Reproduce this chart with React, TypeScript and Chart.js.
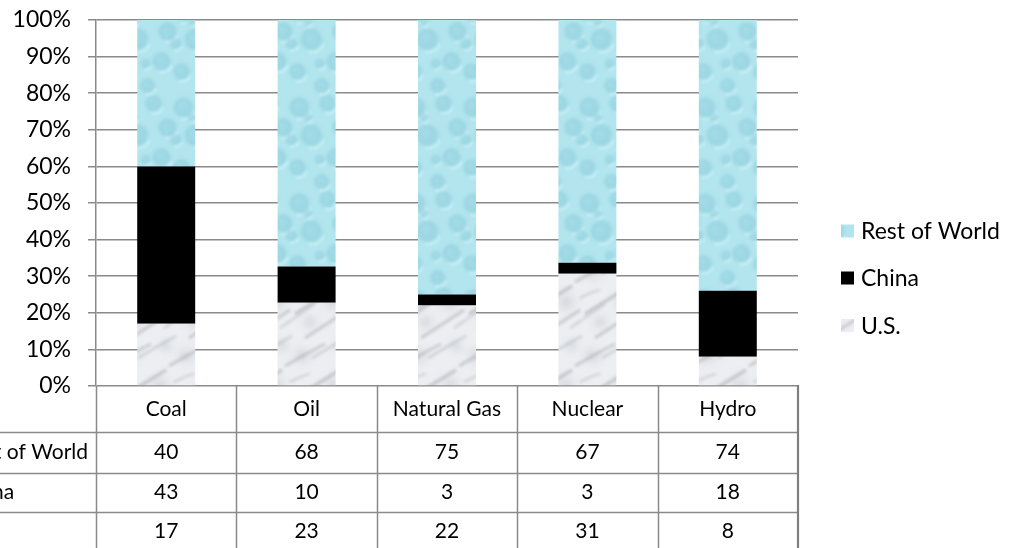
import React, { useEffect, useRef } from 'react';
import { Chart, registerables } from 'chart.js';

Chart.register(...registerables);

// ---------- data ----------
const categories = ['Coal', 'Oil', 'Natural Gas', 'Nuclear', 'Hydro'];
const usValues = [17, 23, 22, 31, 8];
const chinaValues = [43, 10, 3, 3, 18];
const restValues = [40, 68, 75, 67, 74];
const seriesLabels = ['U.S.', 'China', 'Rest of World']; // stacking order, bottom to top
const tableOrder = ['Rest of World', 'China', 'U.S.']; // table / legend order
const yTickValues = [0, 10, 20, 30, 40, 50, 60, 70, 80, 90, 100];

const FONT = 'Lato, "Open Sans", sans-serif';
const AXIS_FONT_SIZE = 23;
const TABLE_FONT_SIZE = 21;
const LINE = '#8a8a8a';

const totals = categories.map((_, i) => usValues[i] + chinaValues[i] + restValues[i]);
const pct = (arr: number[]) => arr.map((v, i) => (v / totals[i]) * 100);

function makeWaterPattern(ctx: CanvasRenderingContext2D) {
  const W = 58;
  const H = 96;
  const c = document.createElement('canvas');
  c.width = W;
  c.height = H;
  const g = c.getContext('2d')!;
  g.fillStyle = '#b2e5ee';
  g.fillRect(0, 0, W, H);
  const drops: number[][] = [
    [10, 12, 12], [38, 8, 10], [52, 32, 11], [22, 40, 13], [46, 62, 11],
    [8, 72, 10], [32, 86, 9], [2, 44, 7], [30, 64, 6], [18, 22, 5],
  ];
  g.filter = 'blur(1.6px)';
  for (const [x, y, r] of drops) {
    for (const dx of [-W, 0, W]) {
      for (const dy of [-H, 0, H]) {
        const cx = x + dx;
        const cy = y + dy;
        const gr = g.createRadialGradient(cx - r * 0.25, cy - r * 0.25, r * 0.1, cx, cy, r);
        gr.addColorStop(0, 'rgba(150,212,225,0.55)');
        gr.addColorStop(0.7, 'rgba(128,196,212,0.45)');
        gr.addColorStop(1, 'rgba(178,229,238,0)');
        g.fillStyle = gr;
        g.beginPath();
        g.arc(cx, cy, r, 0, Math.PI * 2);
        g.fill();
        g.strokeStyle = 'rgba(225,250,255,0.8)';
        g.lineWidth = 1.6;
        g.beginPath();
        g.arc(cx, cy, r * 0.95, Math.PI * 0.1, Math.PI * 0.6);
        g.stroke();
      }
    }
  }
  return ctx.createPattern(c, 'repeat')!;
}

function makeMarblePattern(ctx: CanvasRenderingContext2D) {
  const W = 58;
  const H = 84;
  const c = document.createElement('canvas');
  c.width = W;
  c.height = H;
  const g = c.getContext('2d')!;
  g.fillStyle = '#eceef1';
  g.fillRect(0, 0, W, H);
  const blotches: number[][] = [[12, 20, 14], [44, 50, 16], [20, 70, 12], [50, 10, 10]];
  g.filter = 'blur(3px)';
  for (const [x, y, r] of blotches) {
    for (const dx of [-W, 0, W]) {
      for (const dy of [-H, 0, H]) {
        const gr = g.createRadialGradient(x + dx, y + dy, 1, x + dx, y + dy, r);
        gr.addColorStop(0, 'rgba(190,194,200,0.6)');
        gr.addColorStop(1, 'rgba(236,238,241,0)');
        g.fillStyle = gr;
        g.beginPath();
        g.arc(x + dx, y + dy, r, 0, Math.PI * 2);
        g.fill();
      }
    }
  }
  g.filter = 'blur(1.5px)';
  const streaks: number[][] = [
    [-5, 30, 35, 8, 2.5], [5, 62, 50, 34, 3], [15, 86, 58, 58, 2.5], [-10, 76, 25, 52, 1.5],
    [22, 22, 60, 0, 1.5], [0, 46, 20, 38, 1.5],
  ];
  for (const [x1, y1, x2, y2, w] of streaks) {
    for (const dx of [-W, 0, W]) {
      for (const dy of [-H, 0, H]) {
        g.strokeStyle = 'rgba(140,144,150,0.45)';
        g.lineWidth = w;
        g.beginPath();
        g.moveTo(x1 + dx, y1 + dy);
        g.quadraticCurveTo((x1 + x2) / 2 + 6 + dx, (y1 + y2) / 2 + dy - 4, x2 + dx, y2 + dy);
        g.stroke();
      }
    }
  }
  return ctx.createPattern(c, 'repeat')!;
}

export default function App() {
  const ref = useRef<HTMLCanvasElement>(null);

  useEffect(() => {
    document.body.style.margin = '0';
    const canvas = ref.current!;
    const ctx = canvas.getContext('2d')!;
    const water = makeWaterPattern(ctx);
    const marble = makeMarblePattern(ctx);
    const fills: Record<string, any> = { 'U.S.': marble, China: '#000000', 'Rest of World': water };
    const rawBySeries: Record<string, number[]> = { 'U.S.': usValues, China: chinaValues, 'Rest of World': restValues };

    const tablePlugin = {
      id: 'dataTableAndLegend',
      afterDraw(chart: any) {
        const { ctx: c, chartArea, scales } = chart;
        const xs = scales.x;
        const H = chart.height;
        const top = chartArea.bottom;
        const rowLines = [top, top + 45.7, top + 86.7, top + 125.7];
        const catW = (chartArea.right - chartArea.left) / categories.length;
        c.save();
        c.strokeStyle = LINE;
        c.lineWidth = 1.5;
        // horizontal row lines
        for (let r = 1; r < rowLines.length; r++) {
          const y = Math.round(rowLines[r]) + 0.5;
          c.beginPath();
          c.moveTo(0, y);
          c.lineTo(chartArea.right, y);
          c.stroke();
        }
        // vertical lines
        const vx = Math.round(chartArea.left) + 0.5;
        c.beginPath();
        c.moveTo(vx, top);
        c.lineTo(vx, H);
        c.stroke();
        for (let i = 0; i < categories.length - 1; i++) {
          const x = Math.round(xs.getPixelForValue(i) + catW / 2) + 0.5;
          c.beginPath();
          c.moveTo(x, top);
          c.lineTo(x, H);
          c.stroke();
        }
        c.lineWidth = 2.2;
        c.strokeStyle = '#7f7f7f';
        c.beginPath();
        c.moveTo(Math.round(chartArea.right), top - 1);
        c.lineTo(Math.round(chartArea.right), H);
        c.stroke();

        // texts
        c.fillStyle = '#000';
        c.font = `${TABLE_FONT_SIZE}px ${FONT}`;
        c.textBaseline = 'middle';
        c.textAlign = 'center';
        const headerY = (rowLines[0] + rowLines[1]) / 2;
        categories.forEach((cat, i) => c.fillText(cat, xs.getPixelForValue(i), headerY));
        const rowCenters = [
          (rowLines[1] + rowLines[2]) / 2,
          (rowLines[2] + rowLines[3]) / 2,
          rowLines[3] + 20,
        ];
        tableOrder.forEach((name, r) => {
          rawBySeries[name].forEach((v, i) => c.fillText(String(v), xs.getPixelForValue(i), rowCenters[r]));
        });
        // series names in the (cropped) left column
        c.textAlign = 'left';
        const x0 = chartArea.left - 8 - c.measureText('Rest of World').width;
        tableOrder.forEach((name, r) => c.fillText(name, x0, rowCenters[r]));

        // legend
        c.font = `${AXIS_FONT_SIZE}px ${FONT}`;
        const legendX = 841;
        const legendYs = [231, 278, 325.5];
        tableOrder.forEach((name, r) => {
          c.fillStyle = fills[name];
          c.fillRect(legendX, legendYs[r] - 6.5, 13, 13);
          c.fillStyle = '#000';
          c.fillText(name, legendX + 20, legendYs[r] + 1);
        });
        c.restore();
      },
    };

    const chart = new Chart(ctx, {
      type: 'bar',
      data: {
        labels: categories,
        datasets: seriesLabels.map((name) => ({
          label: name,
          data: pct(rawBySeries[name]),
          backgroundColor: fills[name],
          borderWidth: 0,
          categoryPercentage: 1,
          barPercentage: 0.413,
        })),
      },
      options: {
        animation: false,
        responsive: false,
        events: [],
        layout: { padding: { top: 20, right: 213, bottom: 162, left: 0 } },
        plugins: { legend: { display: false }, tooltip: { enabled: false } },
        scales: {
          x: { display: false, stacked: true },
          y: {
            stacked: true,
            min: 0,
            max: 100,
            afterBuildTicks: (s: any) => {
              s.ticks = yTickValues.map((v) => ({ value: v }));
            },
            afterFit: (s: any) => {
              s.width = 96;
              s.paddingTop = 0;
              s.paddingBottom = 0;
            },
            ticks: {
              callback: (v: any) => `${v}%`,
              padding: 17,
              color: '#000',
              font: { family: FONT, size: AXIS_FONT_SIZE },
            },
            grid: { color: LINE, lineWidth: 1.5, tickLength: 8, drawTicks: true },
            border: { display: true, color: LINE, width: 1.5 },
          },
        },
      },
      plugins: [tablePlugin],
    });
    return () => chart.destroy();
  }, []);

  return (
    <div style={{ width: 1011, height: 548 }}>
      <canvas ref={ref} width={1011} height={548} style={{ display: 'block' }} />
    </div>
  );
}
